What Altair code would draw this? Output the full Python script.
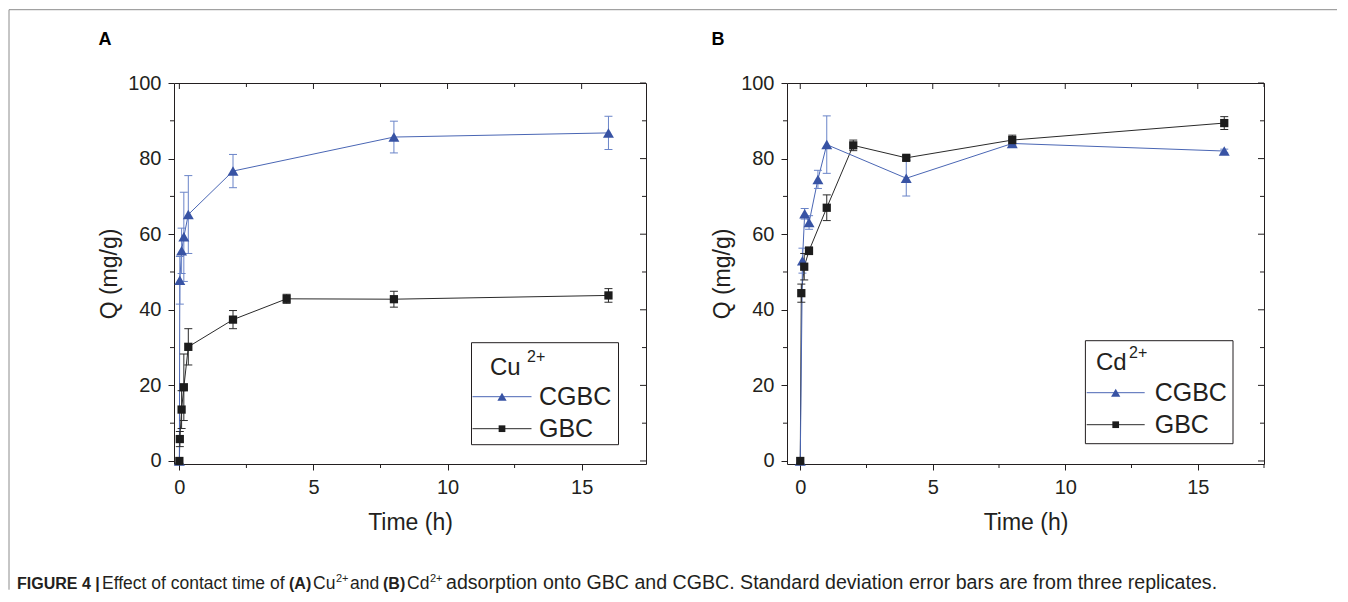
import altair as alt
import pandas as pd

# ---------------- data ----------------
# Panel A : Cu2+
a_cgbc_t = [0, 1/60, 1/12, 1/6, 1/3, 2, 8, 16]
a_cgbc_q = [0, 47.8, 55.6, 59.3, 65.2, 76.7, 85.7, 86.8]
a_cgbc_sd = [0, 6.3, 6.0, 11.8, 10.3, 4.4, 4.2, 4.4]
a_gbc_t = [0, 1/60, 1/12, 1/6, 1/3, 2, 4, 8, 16]
a_gbc_q = [0, 5.8, 13.6, 19.5, 30.2, 37.4, 42.9, 42.8, 43.8]
a_gbc_sd = [0, 2.0, 5.0, 8.8, 4.8, 2.4, 1.2, 2.1, 1.8]

# Panel B : Cd2+
b_cgbc_t = [0, 0.083, 0.167, 0.333, 0.667, 1, 4, 8, 16]
b_cgbc_q = [0, 53.0, 65.4, 63.1, 74.5, 83.7, 74.8, 84.0, 82.0]
b_cgbc_sd = [0, 3.3, 1.4, 1.8, 2.4, 7.6, 4.7, 1.0, 0.5]
b_gbc_t = [0, 0.04, 0.15, 0.33, 1, 2, 4, 8, 16]
b_gbc_q = [0, 44.4, 51.4, 55.6, 67.0, 83.5, 80.2, 84.9, 89.4]
b_gbc_sd = [0, 2.4, 3.5, 1.0, 3.4, 1.4, 0.6, 1.3, 1.7]

x_major = [0, 5, 10, 15]
x_minor = [2.5, 7.5, 12.5, 17.5]
y_major = [0, 20, 40, 60, 80, 100]
y_minor = [10, 30, 50, 70, 90]
series_names = ["CGBC", "GBC"]

# ---------------- styles ----------------
FONT = "Liberation Sans"
TXT = "#231f20"
BLUE = "#3853a4"
BLUE_LINE = "#4a66b4"
BLUE_ERR = "#6a84c8"
BLACK = "#1c1c1c"
GRAY_LINE = "#2a2a2a"
H = 381

one = pd.DataFrame({"z": [0]})


def mkdf(t, q, sd):
    return pd.DataFrame({"t": t, "q": q, "sd": sd,
                         "lo": [a - b for a, b in zip(q, sd)],
                         "hi": [a + b for a, b in zip(q, sd)]})


def txt(x, y, s, size, weight="normal", align="left", baseline="alphabetic", color=TXT):
    return alt.Chart(one).mark_text(text=s, fontSize=size, fontWeight=weight, font=FONT,
                                    align=align, baseline=baseline, color=color).encode(
        x=alt.value(x), y=alt.value(y))


def rule_px(x, x2, y, y2, color=TXT, width=1):
    return alt.Chart(one).mark_rule(color=color, strokeWidth=width).encode(
        x=alt.value(x), x2=alt.value(x2), y=alt.value(y), y2=alt.value(y2))


def panel(cg, gb, xdom, W, letter, ion, leg, extra=None):
    xs = alt.Scale(domain=xdom, nice=False, zero=False)
    ys = alt.Scale(domain=[-0.8, 100], nice=False, zero=False)
    xaxis = alt.Axis(values=x_major, title="Time (h)", grid=False, domain=False,
                     tickSize=6, tickColor=TXT, labelFlush=False, labelOverlap=False,
                     labelPadding=7, titlePadding=14, format="d",
                     labelFont=FONT, titleFont=FONT, labelFontSize=20, titleFontSize=23,
                     titleFontWeight="normal", labelColor=TXT, titleColor=TXT)
    yaxis = alt.Axis(values=y_major, title="Q (mg/g)", grid=False, domain=False,
                     tickSize=6, tickColor=TXT, labelFlush=False, labelOverlap=False,
                     labelPadding=7, titlePadding=6, format="d",
                     labelFont=FONT, titleFont=FONT, labelFontSize=20, titleFontSize=23,
                     titleFontWeight="normal", labelColor=TXT, titleColor=TXT)

    # identical axis definition in every layer so that the shared axes merge cleanly
    X = lambda f: alt.X(f, scale=xs, axis=xaxis)
    Y = lambda f: alt.Y(f, scale=ys, axis=yaxis)

    layers = []
    # lines
    layers.append(alt.Chart(gb).mark_line(color=GRAY_LINE, strokeWidth=1).encode(
        x=X("t:Q"), y=Y("q:Q"), order="t:Q"))
    layers.append(alt.Chart(cg).mark_line(color=BLUE_LINE, strokeWidth=1).encode(
        x=X("t:Q"), y=Y("q:Q"), order="t:Q"))

    # tick marks (mirror + minor)
    xmaj = pd.DataFrame({"v": x_major})
    xmin = pd.DataFrame({"v": [v for v in x_minor if xdom[0] <= v <= xdom[1]]})
    ymaj = pd.DataFrame({"v": y_major})
    ymin = pd.DataFrame({"v": y_minor})
    layers.append(alt.Chart(xmaj).mark_rule(color=TXT).encode(
        x=X("v:Q"), y=alt.value(0), y2=alt.value(6)))
    layers.append(alt.Chart(ymaj).mark_rule(color=TXT).encode(
        y=Y("v:Q"), x=alt.value(W - 6), x2=alt.value(W)))
    layers.append(alt.Chart(xmin).mark_rule(color=TXT).encode(
        x=X("v:Q"), y=alt.value(0), y2=alt.value(4)))
    layers.append(alt.Chart(xmin).mark_rule(color=TXT).encode(
        x=X("v:Q"), y=alt.value(H), y2=alt.value(H + 4)))
    layers.append(alt.Chart(ymin).mark_rule(color=TXT).encode(
        y=Y("v:Q"), x=alt.value(-4), x2=alt.value(0)))
    layers.append(alt.Chart(ymin).mark_rule(color=TXT).encode(
        y=Y("v:Q"), x=alt.value(W - 4), x2=alt.value(W)))

    # error bars
    for df, col in ((cg, BLUE_ERR), (gb, GRAY_LINE)):
        e = df[df["sd"] > 0]
        layers.append(alt.Chart(e).mark_rule(color=col, strokeWidth=1).encode(
            x=X("t:Q"), y=Y("lo:Q"), y2="hi:Q"))
        layers.append(alt.Chart(e).mark_tick(color=col, orient="horizontal", size=8,
                                             thickness=1, opacity=1).encode(
            x=X("t:Q"), y=Y("lo:Q")))
        layers.append(alt.Chart(e).mark_tick(color=col, orient="horizontal", size=8,
                                             thickness=1, opacity=1).encode(
            x=X("t:Q"), y=Y("hi:Q")))

    # points
    layers.append(alt.Chart(cg).mark_point(shape="triangle-up", filled=True, size=120,
                                           color=BLUE, opacity=1).encode(
        x=X("t:Q"), y=Y("q:Q")))
    layers.append(alt.Chart(gb).mark_point(shape="square", filled=True, size=68,
                                           color=BLACK, opacity=1).encode(
        x=X("t:Q"), y=Y("q:Q")))

    # legend (drawn by hand)
    bx1, bx2, by1, by2 = leg["box"]
    layers.append(alt.Chart(one).mark_rect(fill="white", stroke=TXT, strokeWidth=1).encode(
        x=alt.value(bx1), x2=alt.value(bx2), y=alt.value(by1), y2=alt.value(by2)))
    ix, iy = leg["ion"]
    layers.append(txt(ix, iy, ion, 24))
    sx, sy = leg["sup"]
    layers.append(txt(sx, sy, "2+", 16))
    lx1, lx2, tx = leg["line"]
    symx = (lx1 + lx2) / 2
    for (name, ry, col, shp, sz, lc) in (
            (series_names[0], leg["rows"][0], BLUE, "triangle-up", 85, BLUE_LINE),
            (series_names[1], leg["rows"][1], BLACK, "square", 45, GRAY_LINE)):
        layers.append(rule_px(lx1, lx2, ry, ry, color=lc))
        layers.append(alt.Chart(one).mark_point(shape=shp, filled=True, size=sz, color=col,
                                                opacity=1).encode(
            x=alt.value(symx), y=alt.value(ry)))
        layers.append(txt(tx, ry, name, 25, baseline="middle"))

    # panel letter
    layers.append(txt(-69, -43, letter, 18, weight="bold", align="center", baseline="middle",
                      color="#000000"))
    if extra:
        layers.extend(extra)
    return alt.layer(*layers).properties(width=W, height=H)


# ---------------- figure frame + caption (in panel A pixel space) ----------------
OX, OY = 175, 83.3  # page position of panel A plot origin
extra_a = [
    rule_px(10 - OX, 1338 - OX, 10 - OY, 10 - OY, color="#8c8c8c"),
    rule_px(10 - OX, 10 - OX, 10 - OY, 590 - OY, color="#8c8c8c"),
]
cap_base = 589.5 - OY
caption = [
    (18, "FIGURE 4 |", "bold", 16, 0),
    (103, "Effect of contact time of", "normal", 17.5, 0),
    (290, "(A)", "bold", 16, 0),
    (314, "Cu", "normal", 17.5, 0),
    (337, "2+", "normal", 11, -7),
    (351, "and", "normal", 17.5, 0),
    (384, "(B)", "bold", 16, 0),
    (408, "Cd", "normal", 17.5, 0),
    (431, "2+", "normal", 11, -7),
    (447, "adsorption onto GBC and CGBC. Standard deviation error bars are from three replicates.",
     "normal", 19.6, 0),
]
for (px, s, w, sz, dy) in caption:
    extra_a.append(txt(px - OX, cap_base + dy, s, sz, weight=w))

leg_a = {"box": (297.5, 444.5, 259.7, 361.7), "ion": (316, 292), "sup": (353, 279),
         "line": (298.5, 357.5, 365), "rows": (313.7, 345.7)}
leg_b = {"box": (298.4, 446, 257.7, 360.7), "ion": (309, 287), "sup": (342, 275),
         "line": (299.7, 357.7, 367.7), "rows": (309.7, 341.7)}

chart_a = panel(mkdf(a_cgbc_t, a_cgbc_q, a_cgbc_sd), mkdf(a_gbc_t, a_gbc_q, a_gbc_sd),
                [-0.2, 17.4], 472, "A", "Cu", leg_a, extra_a)
chart_b = panel(mkdf(b_cgbc_t, b_cgbc_q, b_cgbc_sd), mkdf(b_gbc_t, b_gbc_q, b_gbc_sd),
                [-0.5, 17.5], 477, "B", "Cd", leg_b)

chart = alt.hconcat(chart_a, chart_b, spacing=141, bounds="flush").properties(
    padding={"left": 0, "top": 0, "right": 0, "bottom": 0}, background="white"
).configure_view(stroke=TXT, strokeWidth=1)

chart.save("out.html", embed_options={"renderer": "svg", "actions": False})
